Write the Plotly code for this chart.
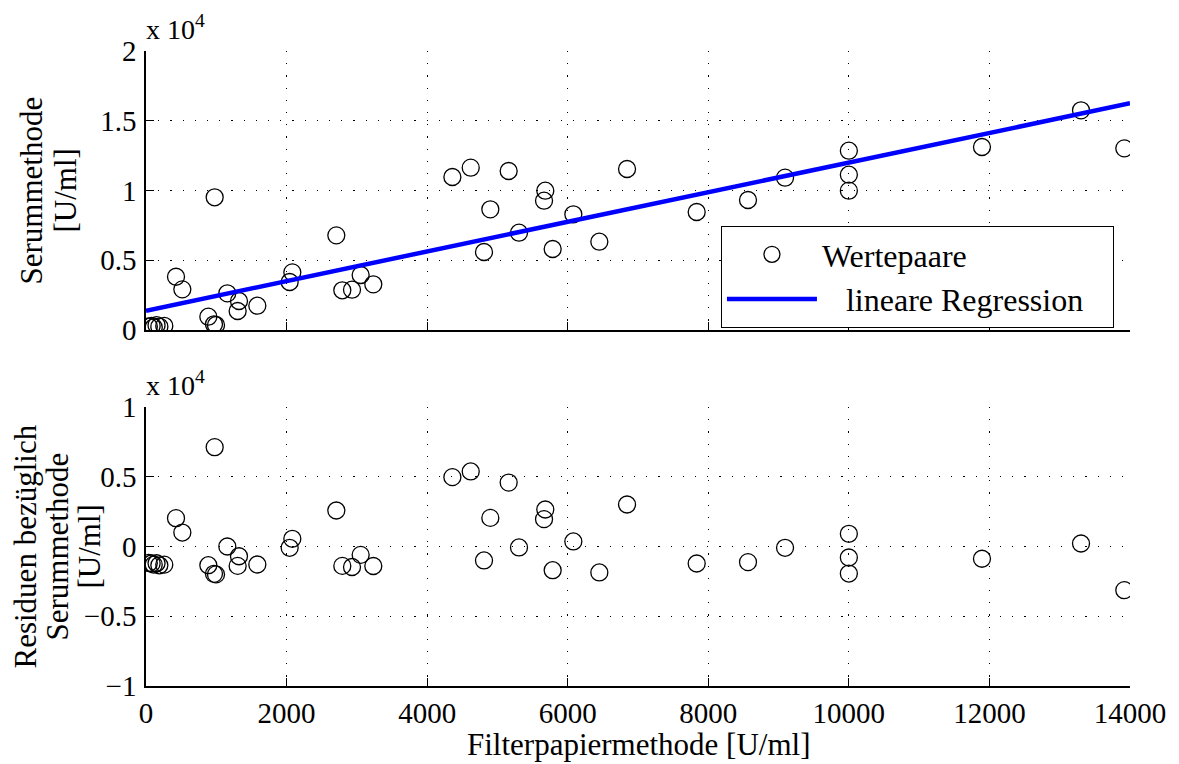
import plotly.graph_objects as go
from plotly.subplots import make_subplots

# --- data ---
filter_x = [40, 80, 110, 150, 190, 260,
            427, 517, 977, 887, 967, 996, 1157, 1323, 1304, 1584,
            2082, 2044, 2708, 2793, 2931, 3054, 3234,
            4359, 4620, 4899, 4809, 5160, 5307, 5681, 5663, 5786,
            6080, 6450, 6844, 7835, 8565, 9092, 10000, 10000, 10000,
            11894, 13303, 13919]
serum_y = [250, 300, 200, 350, 250, 300,
           3820, 2915, 9513, 955, 407, 358, 2630, 2079, 1362, 1744,
           4134, 3441, 6786, 2846, 2890, 3943, 3274,
           10968, 11637, 8650, 5591, 11398, 6977, 9988, 9271, 5806,
           8292, 6332, 11541, 8459, 9319, 10920, 12855, 11134, 9989,
           13118, 15747, 13022]
residuals = [-1180, -1220, -1300, -1200, -1350, -1300,
             2030, 1000, 7120, -1340, -1960, -2000, 0, -700, -1390, -1290,
             550, -95, 2580, -1390, -1470, -600, -1400,
             4970, 5380, 2050, -1000, 4580, -70, 2650, 1960, -1700,
             360, -1860, 3010, -1220, -1120, -95, 910, -790, -1940,
             -880, 215, -3130]
reg_x = [0, 14000]
reg_y = [1384, 16250]

x_ticks = [0, 2000, 4000, 6000, 8000, 10000, 12000, 14000]
top_ticks = [0, 5000, 10000, 15000, 20000]
top_ticktext = ["0", "0.5", "1", "1.5", "2"]
bot_ticks = [-10000, -5000, 0, 5000, 10000]
bot_ticktext = ["\u22121", "\u22120.5", "0", "0.5", "1"]

FONT = "Liberation Serif, Times New Roman, serif"
TICK_FS = 29
TITLE_FS = 31
LEG_FS = 32
EXP_FS = 28

fig = make_subplots(rows=2, cols=1, shared_xaxes=False, vertical_spacing=0.1212)

fig.add_trace(go.Scatter(x=filter_x, y=serum_y, mode="markers", name="Wertepaare",
                         marker=dict(symbol="circle-open", size=17, color="black",
                                     line=dict(width=1.3, color="black"))),
              row=1, col=1)
fig.add_trace(go.Scatter(x=reg_x, y=reg_y, mode="lines",
                         name="\u00a0\u00a0\u00a0lineare Regression\u00a0\u00a0\u00a0",
                         line=dict(color="#0000ff", width=4.5)),
              row=1, col=1)
fig.add_trace(go.Scatter(x=filter_x, y=residuals, mode="markers", showlegend=False,
                         marker=dict(symbol="circle-open", size=17, color="black",
                                     line=dict(width=1.3, color="black"))),
              row=2, col=1)

grid = dict(showgrid=True, gridcolor="black", gridwidth=1, griddash="1.2px,11px",
            showline=True, linecolor="black", linewidth=1.5, mirror=False,
            ticks="inside", ticklen=8, tickcolor="black", tickwidth=1,
            zeroline=False, automargin=False,
            tickfont=dict(family=FONT, size=TICK_FS, color="black"))

fig.update_xaxes(range=[0, 14000], tickvals=x_ticks, **grid)
fig.update_xaxes(showticklabels=False, row=1, col=1)
fig.update_xaxes(ticktext=[str(v) for v in x_ticks], ticklabelstandoff=0, row=2, col=1)
fig.update_yaxes(ticklabelstandoff=2, **grid)
fig.update_yaxes(range=[0, 20000], tickvals=top_ticks, ticktext=top_ticktext, row=1, col=1)
fig.update_yaxes(range=[-10000, 10000], tickvals=bot_ticks, ticktext=bot_ticktext, row=2, col=1)

tfont = dict(family=FONT, size=TITLE_FS, color="black")
# x-axis title
fig.add_annotation(text="Filterpapiermethode [U/ml]", xref="paper", yref="paper",
                   x=0.5, y=0, xanchor="center", yanchor="middle", yshift=-58,
                   showarrow=False, font=tfont)
# y-axis titles (one annotation per line)
top_mid = (1.0 + 0.5606) / 2
bot_mid = 0.4394 / 2
for line, shift in [("Serummethode", -114), ("[U/ml]", -80)]:
    fig.add_annotation(text=line, xref="paper", yref="paper", x=0, y=top_mid,
                       xanchor="center", yanchor="middle", xshift=shift, textangle=-90,
                       showarrow=False, font=tfont)
for line, shift in [("Residuen bezüglich", -121), ("Serummethode", -89), ("[U/ml]", -57)]:
    fig.add_annotation(text=line, xref="paper", yref="paper", x=0, y=bot_mid,
                       xanchor="center", yanchor="middle", xshift=shift, textangle=-90,
                       showarrow=False, font=tfont)

efont = dict(family=FONT, size=EXP_FS, color="black")
fig.add_annotation(text="x 10<sup>4</sup>", xref="paper", yref="paper", x=0.0, y=1.0,
                   xanchor="left", yanchor="bottom", showarrow=False, xshift=-2, yshift=4,
                   font=efont)
fig.add_annotation(text="x 10<sup>4</sup>", xref="paper", yref="paper", x=0.0, y=0.4394,
                   xanchor="left", yanchor="bottom", showarrow=False, xshift=-2, yshift=4,
                   font=efont)

# the page body adds an 8px offset, so the figure is 8px smaller and margins shifted
fig.update_layout(
    width=1171, height=756,
    margin=dict(l=138, r=49, t=43, b=78),
    paper_bgcolor="white", plot_bgcolor="white",
    font=dict(family=FONT, size=TICK_FS, color="black"),
    legend=dict(x=0.5843, y=0.7244, xanchor="left", yanchor="top",
                bordercolor="black", borderwidth=1, bgcolor="white",
                font=dict(family=FONT, size=LEG_FS, color="black"),
                itemwidth=90),
    showlegend=True,
)

fig.write_html("out.html")
